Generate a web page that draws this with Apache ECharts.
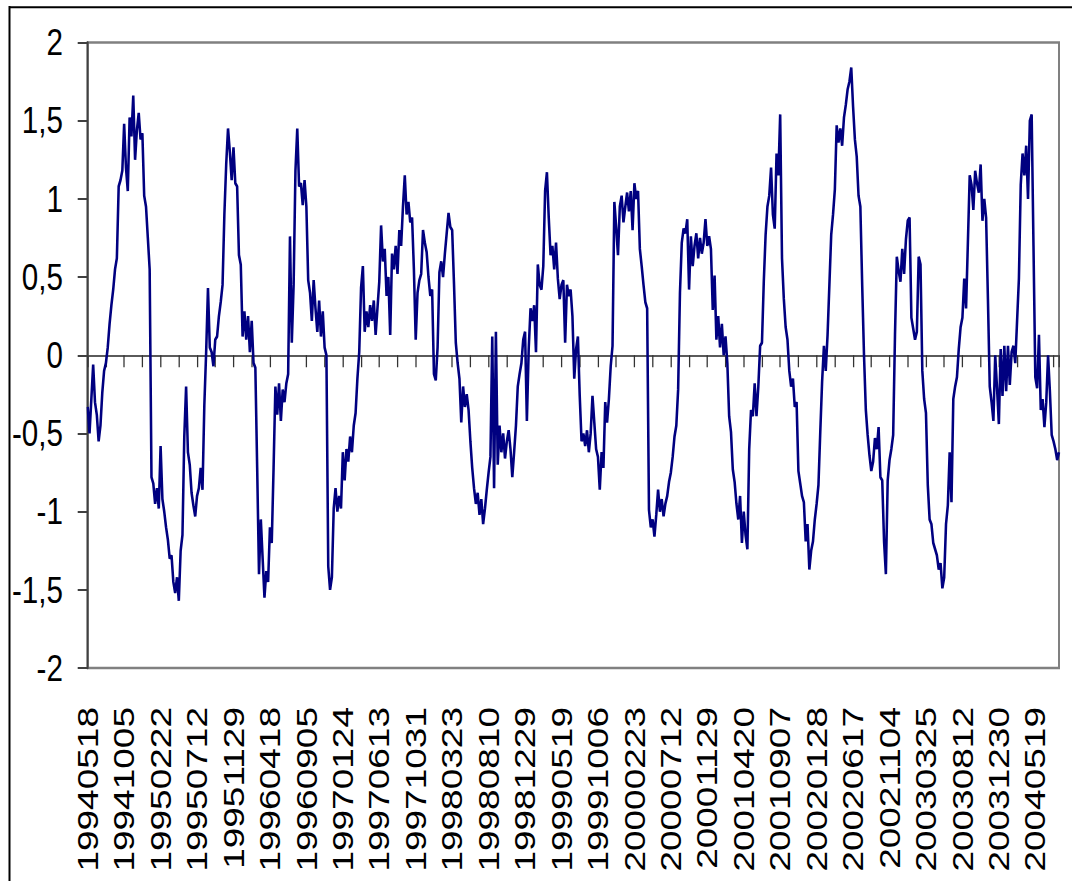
<!DOCTYPE html>
<html>
<head>
<meta charset="utf-8">
<script src="https://cdn.jsdelivr.net/npm/echarts@6/dist/echarts.min.js"></script>
<style>
  html, body { margin: 0; padding: 0; background: #fff; overflow: hidden; }
  /* the chart is laid out wider and squeezed horizontally, like the original spreadsheet print */
  #chart { position: absolute; left: 0; top: 0; width: 1340px; height: 881px;
           transform: scaleX(0.8); transform-origin: 0 0; }
</style>
</head>
<body>
<div id="chart"></div>
<script>
// weekly index labels, one every 20 observations
const tickLabels = [
  '19940518','19941005','19950222','19950712','19951129','19960418','19960905',
  '19970124','19970613','19971031','19980323','19980810','19981229','19990519',
  '19991006','20000223','20000712','20001129','20010420','20010907','20020128',
  '20020617','20021104','20030325','20030812','20031230','20040519'
];

// standardised indicator, weekly observations
const values = [
  -0.33,-0.50,-0.28,-0.06,-0.30,-0.38,-0.55,-0.45,-0.24,-0.10,
  -0.05,0.05,0.20,0.32,0.42,0.55,0.62,1.08,1.12,1.18,
  1.48,1.20,1.05,1.52,1.40,1.66,1.25,1.44,1.55,1.38,
  1.42,1.02,0.95,0.75,0.55,-0.78,-0.82,-0.95,-0.85,-0.98,
  -0.58,-0.92,-1.00,-1.10,-1.18,-1.30,-1.28,-1.45,-1.52,-1.42,
  -1.57,-1.25,-1.15,-0.52,-0.20,-0.62,-0.70,-0.88,-0.96,-1.03,
  -0.90,-0.85,-0.72,-0.86,-0.32,0.02,0.43,0.05,0.02,-0.07,
  0.10,0.12,0.25,0.34,0.45,0.90,1.22,1.45,1.30,1.12,
  1.33,1.10,1.08,0.64,0.58,0.12,0.28,0.10,0.25,0.02,
  0.22,-0.05,-0.08,-0.72,-1.40,-1.05,-1.30,-1.55,-1.38,-1.45,
  -1.10,-1.20,-0.72,-0.20,-0.38,-0.18,-0.42,-0.22,-0.30,-0.18,
  -0.12,0.76,0.08,0.45,1.18,1.45,1.08,1.10,0.96,1.12,
  0.95,0.48,0.40,0.22,0.48,0.30,0.15,0.35,0.12,0.28,
  0.05,0.00,-1.35,-1.50,-1.42,-0.98,-0.85,-1.00,-0.90,-0.98,
  -0.62,-0.80,-0.60,-0.68,-0.52,-0.62,-0.45,-0.37,-0.15,0.02,
  0.43,0.57,0.15,0.28,0.18,0.32,0.22,0.35,0.13,0.30,
  0.47,0.83,0.60,0.68,0.38,0.50,0.13,0.65,0.55,0.70,
  0.52,0.80,0.70,0.95,1.15,0.90,0.98,0.85,0.88,0.55,
  0.10,0.40,0.48,0.52,0.80,0.72,0.66,0.50,0.38,0.42,
  -0.12,-0.16,0.05,0.53,0.60,0.50,0.65,0.78,0.91,0.82,
  0.80,0.46,0.08,-0.05,-0.15,-0.43,-0.20,-0.33,-0.25,-0.35,
  -0.55,-0.72,-0.85,-0.95,-0.88,-1.02,-0.92,-1.08,-0.98,-0.86,
  -0.75,-0.65,0.12,-0.85,0.15,-0.70,-0.45,-0.62,-0.50,-0.66,
  -0.55,-0.48,-0.60,-0.78,-0.62,-0.45,-0.20,-0.12,-0.05,0.10,
  0.15,-0.42,0.04,0.30,0.22,0.32,0.02,0.58,0.45,0.42,
  0.57,1.05,1.17,0.88,0.64,0.70,0.55,0.72,0.49,0.36,
  0.45,0.48,0.08,0.45,0.38,0.42,0.25,-0.15,0.04,0.12,
  -0.26,-0.55,-0.50,-0.58,-0.48,-0.62,-0.50,-0.26,-0.43,-0.60,
  -0.65,-0.86,-0.62,-0.72,-0.30,-0.43,-0.28,-0.07,0.06,0.98,
  0.82,0.64,0.95,1.02,0.85,0.95,1.04,0.92,1.05,0.80,
  1.10,1.00,1.05,0.68,0.57,0.45,0.34,0.30,-0.99,-1.10,
  -1.05,-1.16,-1.02,-0.86,-1.00,-0.92,-1.03,-0.95,-0.90,-0.81,
  -0.75,-0.65,-0.52,-0.45,-0.22,0.40,0.72,0.81,0.78,0.87,
  0.42,0.76,0.57,0.70,0.78,0.62,0.75,0.65,0.72,0.87,
  0.70,0.76,0.68,0.29,0.51,0.10,0.25,0.05,0.20,0.00,
  0.12,-0.05,-0.39,-0.49,-0.73,-0.81,-0.95,-1.05,-0.90,-1.20,
  -1.00,-1.15,-1.24,-0.60,-0.35,-0.39,-0.18,-0.39,-0.20,0.06,
  0.08,0.47,0.77,0.95,1.02,1.20,0.90,0.81,1.29,1.15,
  1.54,0.62,0.36,0.18,0.10,-0.10,-0.20,-0.15,-0.33,-0.30,
  -0.74,-0.82,-0.90,-0.94,-1.19,-1.08,-1.37,-1.25,-1.19,-1.05,
  -0.95,-0.83,-0.49,-0.17,0.06,-0.10,0.13,0.45,0.77,0.90,
  1.06,1.47,1.36,1.45,1.34,1.52,1.60,1.70,1.75,1.84,
  1.59,1.38,1.27,1.02,0.95,0.45,0.00,-0.35,-0.51,-0.64,
  -0.74,-0.68,-0.53,-0.60,-0.46,-0.78,-0.80,-1.19,-1.40,-0.80,
  -0.67,-0.60,-0.51,0.13,0.63,0.54,0.47,0.68,0.52,0.74,
  0.86,0.88,0.24,0.17,0.10,0.15,0.63,0.58,-0.10,-0.28,
  -0.37,-0.83,-1.05,-1.08,-1.20,-1.24,-1.28,-1.37,-1.33,-1.49,
  -1.42,-1.08,-0.96,-0.62,-0.94,-0.28,-0.20,-0.14,0.04,0.18,
  0.24,0.49,0.30,0.72,1.15,1.09,0.93,1.18,1.10,1.04,
  1.22,0.86,1.00,0.88,0.36,-0.20,-0.30,-0.42,0.00,-0.21,
  -0.44,0.04,-0.26,0.06,-0.23,0.06,-0.19,0.02,0.06,-0.05,
  0.22,0.49,1.09,1.29,1.15,1.34,1.00,1.50,1.54,0.70,
  -0.14,-0.21,0.13,-0.35,-0.28,-0.46,-0.30,0.00,-0.23,-0.51,
  -0.55,-0.60,-0.67,-0.62
];

const yTicks = { min: -2, max: 2, step: 0.5 };
const FONT = "'Liberation Sans', Arial, sans-serif";
const SX = 0.8;        // horizontal squeeze of the container
const lastIndex = values.length - 1;

const chart = echarts.init(document.getElementById('chart'), null, { renderer: 'svg' });

chart.setOption({
  animation: false,
  backgroundColor: '#ffffff',
  grid: {
    left: 87.7 / SX,
    right: 1340 - 1059 / SX,
    top: 42.5,
    bottom: 881 - 668,
    show: true,
    borderColor: '#808080',
    borderWidth: 2.5,
    backgroundColor: 'transparent',
    containLabel: false,
    outerBoundsMode: 'none'
  },
  graphic: [
    { type: 'line', z: 100, shape: { x1: 9.5 / SX, y1: 6, x2: 9.5 / SX, y2: 900 },
      style: { stroke: '#000', lineWidth: 2.5 } },
    { type: 'line', z: 100, shape: { x1: 9.5 / SX, y1: 7.3, x2: 1400, y2: 7.3 },
      style: { stroke: '#000', lineWidth: 2 } }
  ],
  xAxis: [
    {
      // tick marks sitting on the zero line
      type: 'value',
      min: 0,
      max: lastIndex,
      interval: 10,
      position: 'bottom',
      axisLine: { show: true, onZero: true, lineStyle: { color: '#5a5a5a', width: 2 } },
      axisTick: { show: true, inside: false, length: 12, lineStyle: { color: '#333', width: 1.6 } },
      axisLabel: { show: false },
      splitLine: { show: false }
    },
    {
      // date labels along the bottom edge
      type: 'value',
      min: 0,
      max: lastIndex,
      interval: 10,
      position: 'bottom',
      axisLine: { show: false, onZero: false },
      axisTick: { show: false },
      splitLine: { show: false },
      axisLabel: {
        show: true,
        rotate: 90,
        margin: 39,
        fontSize: 37,
        fontFamily: FONT,
        color: '#000',
        showMinLabel: true,
        showMaxLabel: true,
        formatter: function (v) {
          const k = Math.round(v);
          return (k % 20 === 0 && tickLabels[k / 20]) ? tickLabels[k / 20] : '';
        }
      }
    }
  ],
  yAxis: {
    type: 'value',
    min: yTicks.min,
    max: yTicks.max,
    interval: yTicks.step,
    axisLine: { show: true, lineStyle: { color: '#404040', width: 2.5 } },
    axisTick: { show: true, inside: false, length: 12.5, lineStyle: { color: '#404040', width: 2 } },
    splitLine: { show: false },
    axisLabel: {
      margin: 31,
      fontSize: 37,
      fontFamily: FONT,
      color: '#000',
      formatter: function (v) { return String(v).replace('.', ','); }
    }
  },
  series: [{
    type: 'line',
    xAxisIndex: 0,
    data: values.map(function (v, i) { return [i, v]; }),
    showSymbol: false,
    symbol: 'none',
    lineStyle: { color: '#000080', width: 3.2 },
    z: 5
  }]
});
</script>
</body>
</html>
